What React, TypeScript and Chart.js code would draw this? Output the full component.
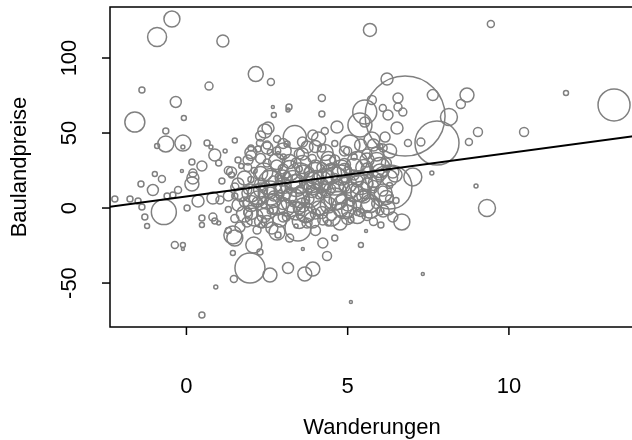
import React, { useEffect, useRef } from "react";
import { Chart, registerables } from "chart.js";

Chart.register(...registerables);

// Wanderungen (x), Baulandpreise (y), bubble size (radius in px)
const wanderungen = [
  -0.45, -0.91, 1.13, 2.15, -1.38, 0.7, -0.33, 5.69, 2.62, 4.2, 6.22, 6.78, 2.68, 3.18, 5.75, 9.44, 11.77, 13.26, 8.7, 8.51,
  7.64, 9.04, 8.76, 10.47, 8.98, 9.32, 8.14, 7.77, 5.53, 6.56, -1.6, -0.08, -0.64, -0.64, -0.11, -0.91, -0.11, 0.64, 0.76, 0.88,
  0.17, 0.48, -0.14, -0.98, -0.76, 0.2, 0.17, 0.2, -1.41, -1.04, -0.26, -0.42, -0.6, -1.75, -1.5, -0.7, 0.02, 0.36, 0.82, 1.04,
  -1.38, -1.29, 0.48, 0.82, -1.22, -0.36, -0.11, -0.11, 0.48, 0.88, 0.91, 0.48, 1.5, 1.44, 1.66, 1.88, 2.19, 2.09, 2.28, 1.97,
  1.47, 1.44, 2.34, 2.81, 2.65, 2.84, 3.46, 3.74, 4.23, 4.76, 3.61, 4.23, 4.36, 3.15, 3.67, 3.92, 2.59, 5.1, 5.57, 6.03,
  5.41, 6.68, 7.33, 7.02, 7.61, 6.47, 6.09, 6.31, 6.25, 2.71, 4.2, 3.15, 2.43, 2.53, 3.36, 3.92, 4.29, 2.81, 2.28, 2.22,
  3.12, 2.84, 1.91, 3.74, 4.67, 5.38, 5.07, 5.75, 6.25, 6.71, 6.53, 6.16, 6.87, 7.27, 5.53, -2.22, 6.56, 6.09,
  1.3, 1.5, 1.6, 1.8, 1.9, 2.0, 2.1, 2.2, 2.3, 2.4, 2.5, 1.4, 1.7, 2.6, 2.7,
  2.8, 2.9, 3.0, 3.1, 3.2, 3.3, 3.4, 3.5, 3.5, 3.6, 3.7, 3.8, 3.9, 4.0, 2.6, 3.0, 3.6, 2.9, 3.3, 3.8,
  4.1, 4.2, 4.3, 4.4, 4.5, 4.6, 4.7, 4.8, 4.9, 5.0, 5.1, 5.2, 5.3, 5.4, 5.5, 4.2, 4.5, 4.9, 5.1, 5.4,
  5.6, 5.7, 5.8, 5.9, 6.0, 6.0, 6.2, 6.3, 5.8, 6.1,
  1.0, 1.2, 1.5, 2.0, 2.3, 1.3, 2.6, 1.1, 1.0, 1.3, 3.2, 4.0, 4.6, 5.6, 3.4,
  3.5, 4.6, 2.6,
  1.5, 2.3, 3.0, 3.9, 4.4, 5.0, 5.8, 6.4,
  1.3, 2.0, 2.7, 3.4, 4.0, 4.8, 5.3, 6.1,
  1.8, 2.4, 3.0, 3.7, 4.4, 5.1, 5.9, 6.5,
  1.5, 2.2, 2.9, 3.5, 4.1, 4.8, 5.5, 6.2,
  1.9, 2.6, 3.2, 3.9, 4.5, 5.2, 5.8,
  1.6, 2.4, 3.0, 3.6, 4.2, 4.9, 5.6, 6.3,
  2.0, 2.7, 3.4, 4.0, 4.6, 5.3, 6.0,
  1.4, 2.3, 3.1, 3.8, 4.5, 5.0, 5.7, 6.4,
  1.9, 2.8, 3.5, 4.2, 4.9, 5.5, 6.2,
  1.6, 2.3, 3.2, 3.9, 4.6, 5.2, 5.9,
  2.0, 2.8, 3.5, 4.3, 5.0, 5.6, 6.3,
  2.5, 3.0, 4.0, 4.6, 5.4, 6.0,
  2.1, 2.5, 2.9, 3.3, 3.7, 4.1, 4.5, 4.9, 5.3, 5.7,
  2.2, 2.6, 3.0, 3.4, 3.8, 4.2, 4.6, 5.0, 5.4, 5.8,
  2.4, 2.8, 3.2, 3.6, 4.0, 4.4, 4.8, 5.2, 5.6, 6.0,
  2.0, 2.3, 3.1, 3.9, 4.7, 5.5, 1.7, 1.8, 6.1, 6.3,
  2.5, 3.5, 4.2, 5.0, 2.7, 3.6, 4.3, 4.9, 5.3, 3.0,
  2.5, 3.0, 3.6, 4.1, 2.0
];

const baulandpreise = [
  126, 114, 111.3, 89.3, 78.7, 81.3, 70.7, 118.7, 84, 73.3, 86, 61.3, 67.3, 67.3, 72, 122.7, 76.7, 68.7, 75.3, 69.3,
  75.3, 50.7, 44, 50.7, 14.7, 0, 60.7, 43.3, 64, 73.3, 57.3, 60, 51.3, 42.7, 43.3, 41.3, 40.7, 43.3, 40.7, 35.3,
  30.7, 28, 24.7, 22.7, 19.3, 20, 16, 23.3, 16, 12, 12, 8.7, 8, 6, 4.7, -2.7, 0, 4.7, 6.7, 5.3,
  0.7, -6, -6.7, -6, -12, -24.7, -24.7, -27.3, -11.3, -8.7, -52.7, -71.3, -20, -18, -12.7, -9.3, -14.7, -24.7, -29.3, -40,
  -47.3, -30, -11.3, -16, -13.3, -18, -13.3, -10, -8, -10, -27.3, -23.3, -32, -40, -44, -40.7, -44.7, -62.7, -15.3, -11.3,
  -24.7, -9.3, -44, 20.7, 23.3, 22, 11.3, 14, 0, 62, 62.7, 65.3, 51.3, 53.3, 47.3, 48.7, 51.3, 46, 43.3, 39.3,
  42.7, 36.7, 32, 40.7, 54, 55.3, 42, 45.3, 62, 64, 53.3, 47.3, 43.3, 44, 57.3, 6, 67.3, 66.7,
  8, 14, 2, 20, -3, 10, 25, 4, 16, -5, 30, 22, 28, 21, 8,
  2, 14, 26, -6, 8, 19, 30, 0, 12, 24, -4, 6, 17, 28, -2, 34, 36, 20, 3, 11,
  0, 10, 21, 33, -5, 6, 15, 26, 38, 2, 12, 22, 31, -3, 8, 40, 28, 19, -8, 17,
  26, 3, 15, 36, -2, 24, 30, 6, 42, 40,
  30, 38, 45, 40, 48, 25, 37, 18, -10, -15, -20, -15, -20, -5, -12,
  20, 18, 10,
  -7, -9, -6, -8, -10, -7, -9, -6,
  -1, -3, -1, -2, -4, -1, -3, -2,
  4, 2, 3, 5, 2, 4, 3, 5,
  8, 6, 9, 7, 8, 6, 9, 7,
  12, 10, 12, 11, 13, 10, 12,
  16, 14, 15, 17, 15, 14, 16, 15,
  19, 18, 20, 19, 21, 18, 20,
  24, 23, 22, 24, 23, 25, 22, 24,
  27, 28, 26, 27, 29, 27, 26,
  32, 33, 31, 33, 32, 34, 31,
  37, 38, 36, 37, 38, 36, 38,
  42, 43, 41, 43, 42, 41,
  -6, 0, -8, 5, -3, 4, -6, 1, -5, 0,
  9, 17, 11, 15, 9, 18, 10, 16, 11, 19,
  24, 31, 25, 29, 23, 30, 22, 27, 32, 27,
  3, 12, 0, 14, 5, 4, 9, -4, 10, 20,
  -9, -9, -3, -2, 5, 2, 12, 25, 20, 20,
  40, 38, 44, 46, 35
];

const groesse = [
  8, 9.5, 6, 7.5, 3, 4, 5.5, 6.5, 3.5, 3.5, 6, 40, 1.5, 3, 4.5, 3.5, 2.5, 16, 7, 4.5,
  5.5, 4.5, 3.5, 4.5, 2, 8.5, 8.5, 22, 12, 5, 10, 2.5, 3, 8, 8, 2.5, 2, 3, 2, 6,
  3, 5, 1.5, 2.5, 3.5, 6, 7, 4, 3, 5.5, 3.5, 3, 3, 3, 3, 12.5, 3, 6, 6, 4,
  3, 3, 3, 4, 2.5, 3.5, 2.5, 1.5, 2.5, 3, 2, 3, 8, 9, 5, 5, 4, 8, 3, 15,
  3.5, 2.5, 3, 8, 6, 3, 13, 5, 5, 7, 1.5, 5, 4.5, 5.5, 7, 7, 7, 1.5, 1.5, 3,
  2.5, 8, 1.5, 9, 2, 7, 5, 22, 7, 2.5, 3, 2, 7, 6, 11.5, 5, 3.5, 3.5, 3.5, 3,
  3, 1.5, 5, 6, 6, 12, 10, 8, 5, 4, 6, 5, 3.5, 4, 5, 3, 4, 3.5,
  5, 4, 6, 7, 4, 9, 3, 5, 6, 7, 4, 3, 2.5, 8, 5,
  10, 6, 5, 4, 7, 9, 5, 6, 4, 7, 8, 5, 10, 6, 3, 3, 6, 3, 3, 3,
  7, 5, 8, 7, 5, 11, 6, 9, 5, 6, 8, 5, 10, 4, 7, 4, 3, 3, 3, 12,
  6, 9, 5, 7, 4, 8, 5, 4, 6, 4,
  3, 2, 2.5, 3, 5, 4, 3, 3, 2, 3, 4, 5, 3, 5, 2,
  15, 14, 12,
  4, 6, 5, 8, 3, 6, 4, 5,
  3, 7, 4, 9, 5, 7, 3, 6,
  5, 3, 6, 4, 8, 4, 5, 3,
  3, 8, 4, 10, 3, 5, 4, 7,
  4, 6, 3, 6, 4, 9, 3,
  6, 4, 8, 3, 7, 5, 6, 3,
  3, 5, 4, 9, 3, 6, 4,
  5, 7, 3, 5, 10, 4, 3, 6,
  4, 6, 3, 5, 6, 8, 3,
  3, 5, 7, 4, 5, 3, 9,
  6, 4, 5, 8, 4, 5, 7,
  4, 5, 6, 3, 6, 3,
  9, 11, 7, 12, 10, 13, 9, 12, 8, 10,
  10, 12, 9, 11, 13, 10, 12, 9, 10, 8,
  9, 8, 10, 9, 11, 8, 10, 9, 7, 10,
  8, 7, 8, 8, 9, 11, 7, 8, 9, 8,
  6, 7, 6, 6, 7, 7, 6, 7, 7, 8,
  6, 8, 5, 7, 5
];

// Regression line end points
const lineX = [-2.5, 14];
const lineY = [0.45, 48.3];

const xTicks = [0, 5, 10];
const yTicks = [-50, 0, 50, 100];
const xTitle = "Wanderungen";
const yTitle = "Baulandpreise";

const W = 680;
const H = 480;
const SHIFT = 40; // canvas shifted up so bubble overflow padding fits off-screen

export default function App() {
  const ref = useRef<HTMLCanvasElement>(null);

  useEffect(() => {
    document.body.style.margin = "0";
    document.body.style.overflow = "hidden";
    const canvas = ref.current;
    if (!canvas) return;

    const FONT = '22px "Liberation Sans", Arial, sans-serif';

    const axesPlugin = {
      id: "rAxes",
      afterDraw(chart: any) {
        const { ctx, chartArea: a, scales } = chart;
        const xs = scales.x;
        const ys = scales.y;
        ctx.save();
        ctx.strokeStyle = "#000";
        ctx.lineWidth = 1.5;
        ctx.strokeRect(a.left, a.top, a.right - a.left, a.bottom - a.top);
        ctx.font = FONT;
        ctx.fillStyle = "#000";
        ctx.textAlign = "center";
        ctx.textBaseline = "middle";
        for (const t of xTicks) {
          const px = xs.getPixelForValue(t);
          ctx.beginPath();
          ctx.moveTo(px, a.bottom);
          ctx.lineTo(px, a.bottom + 8);
          ctx.stroke();
          ctx.fillText(String(t), px, a.bottom + 60);
        }
        for (const t of yTicks) {
          const py = ys.getPixelForValue(t);
          ctx.beginPath();
          ctx.moveTo(a.left, py);
          ctx.lineTo(a.left - 8, py);
          ctx.stroke();
          ctx.save();
          ctx.translate(a.left - 40, py);
          ctx.rotate(-Math.PI / 2);
          ctx.fillText(String(t), 0, 0);
          ctx.restore();
        }
        ctx.fillText(xTitle, 372, a.bottom + 101);
        ctx.save();
        ctx.translate(20, (a.top + a.bottom) / 2);
        ctx.rotate(-Math.PI / 2);
        ctx.fillText(yTitle, 0, 0);
        ctx.restore();
        ctx.restore();
      },
    };

    const points = wanderungen.map((x, i) => ({ x, y: baulandpreise[i], r: groesse[i] }));
    const linePts = lineX.map((x, i) => ({ x, y: lineY[i] }));

    const chart = new Chart(canvas, {
      type: "bubble",
      data: {
        datasets: [
          {
            type: "line",
            data: linePts,
            borderColor: "#000",
            borderWidth: 2,
            pointRadius: 0,
            fill: false,
          } as any,
          {
            type: "bubble",
            data: points,
            borderColor: "#808080",
            backgroundColor: "rgba(0,0,0,0)",
            borderWidth: 1.5,
            hoverRadius: 0,
          } as any,
        ],
      },
      options: {
        responsive: false,
        animation: false,
        devicePixelRatio: 1,
        layout: { padding: { left: 110, top: 7 + SHIFT, right: W - 635, bottom: H - (327 + SHIFT) } },
        plugins: { legend: { display: false }, tooltip: { enabled: false } },
        scales: {
          x: { type: "linear", display: false, min: -2.37, max: 13.91 },
          y: { type: "linear", display: false, min: -79.3, max: 134 },
        },
      },
      plugins: [axesPlugin],
    });

    return () => chart.destroy();
  }, []);

  return (
    <canvas
      ref={ref}
      width={W}
      height={H}
      style={{ position: "fixed", left: 0, top: -SHIFT, width: W, height: H }}
    />
  );
}
